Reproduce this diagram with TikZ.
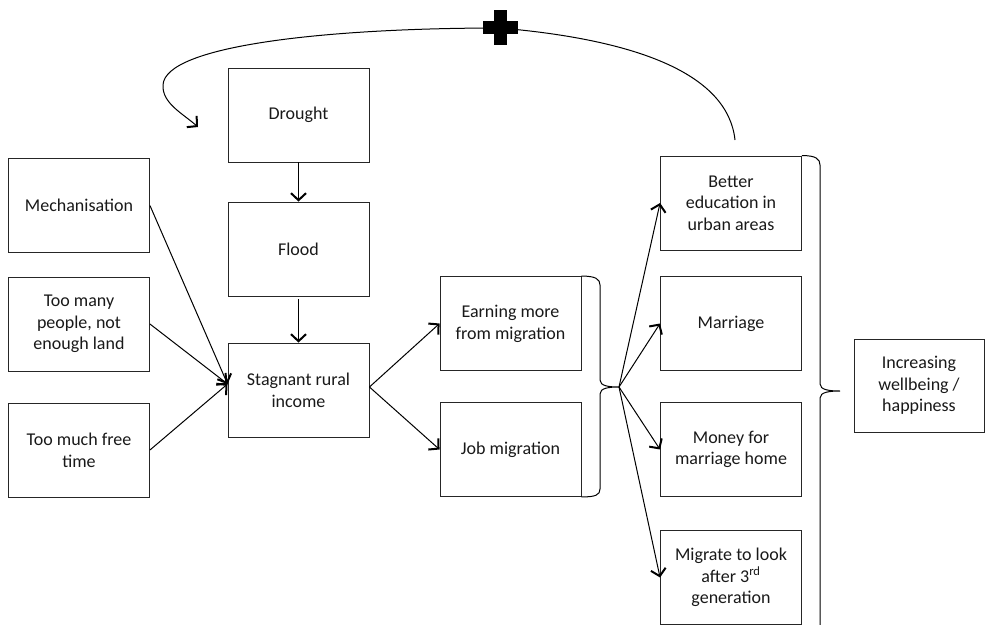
\documentclass[tikz,border=0pt]{standalone}
\usepackage{fontspec}
\setmainfont{Carlito}
\usetikzlibrary{arrows.meta,calc}
\begin{document}
\begin{tikzpicture}[x=1pt,y=-1pt,
  box/.style={draw=black!85, line width=0.9pt, minimum width=141pt, minimum height=94pt,
    align=center, font=\fontsize{18}{21.7}\selectfont, inner sep=2pt, text=black!90},
  arr/.style={line width=1pt, -{Straight Barb[length=7pt,width=15pt,line width=2pt]}},
  brace/.style={line width=1pt}]
\useasboundingbox (0,0) rectangle (985,624);
% nodes
\node[box] (mech) at (79,205.5) {Mechanisation};
\node[box] (many) at (79,324) {Too many\\people, not\\enough land};
\node[box] (free) at (79,450) {Too much free\\time};
\node[box] (drought) at (298.5,115) {Drought};
\node[box] (flood) at (298.5,249) {Flood};
\node[box] (stag) at (298.5,390) {Stagnant rural\\income};
\node[box] (earn) at (510.5,323.5) {Earning more\\from migration};
\node[box] (job) at (510.5,449.5) {Job migration};
\node[box] (better) at (731,203) {Better\\education in\\urban areas};
\node[box] (marr) at (731,323.5) {Marriage};
\node[box] (money) at (731,449.5) {Money for\\marriage home};
\node[box] (migr) at (731,577.5) {Migrate to look\\after 3\textsuperscript{rd}\\generation};
\node[box, minimum width=130pt, minimum height=93pt] (incr) at (919,385.5) {Increasing\\wellbeing /\\happiness};
% left arrows
\coordinate (sin) at ($(stag.west)+(0,-6)$);
\draw[arr] (mech.east) -- (sin);
\draw[arr] (many.east) -- (sin);
\draw[arr] (free.east) -- (sin);
\draw[arr] (drought.south) -- (flood.north);
\draw[arr, shorten <=3pt] (flood.south) -- (stag.north);
\coordinate (sout) at ($(stag.east)+(0,-3)$);
\draw[arr] (sout) -- (earn.west);
\draw[arr] (sout) -- (job.west);
% bracket 1
\coordinate (b1) at (619,387);
\draw[brace] (earn.north east) .. controls +(14,0) and +(0,-6) .. (600,285) -- (600,380)
  .. controls +(0,6) and +(-10,0) .. (b1)
  .. controls +(-10,0) and +(0,-6) .. (600,394) -- (600,489)
  .. controls +(0,6) and +(14,0) .. (job.south east);
\draw[arr] (b1) -- (better.west);
\draw[arr] (b1) -- (marr.west);
\draw[arr] (b1) -- (money.west);
\draw[arr] (b1) -- (migr.west);
% bracket 2
\coordinate (b2) at (840,391);
\draw[brace] (better.north east) .. controls +(14,0) and +(0,-6) .. (820,165) -- (820,384)
  .. controls +(0,6) and +(-10,0) .. (b2)
  .. controls +(-10,0) and +(0,-6) .. (820,398) -- (820,630);
% feedback loop
\coordinate (fbs) at (735,140);
\coordinate (fbe) at (198,127);
\draw[arr] (fbs) .. controls (728,75) and (640,40) .. (500,28)
  .. controls (330,28) and (165,45) .. (163,85)
  .. controls (162,103) and (182,113) .. (fbe);
\fill[black] (483,21) rectangle (518,34);
\fill[black] (494,10) rectangle (507,45);
\end{tikzpicture}
\end{document}
